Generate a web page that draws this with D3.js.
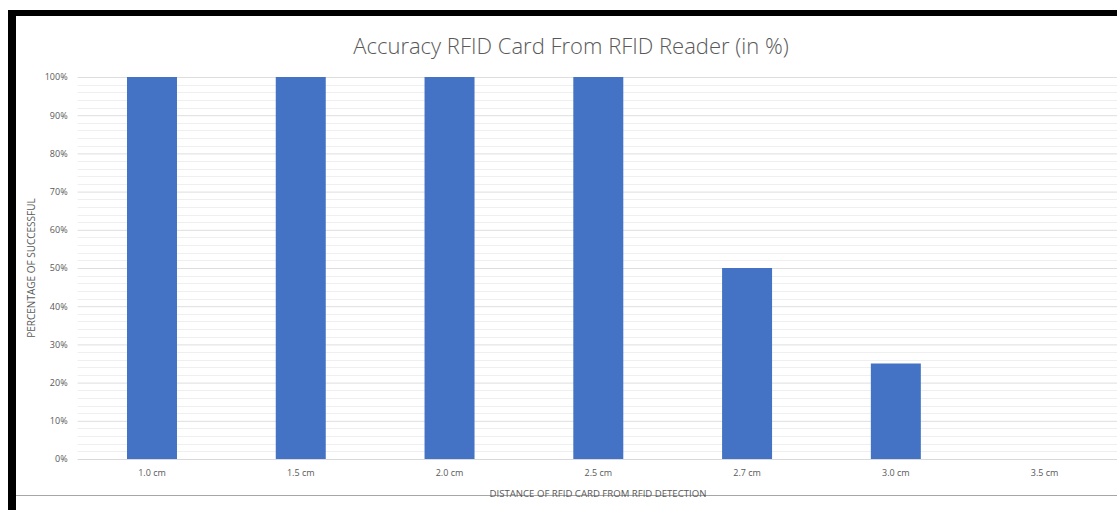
<!DOCTYPE html>
<html>
<head>
<meta charset="utf-8">
<script src="https://cdn.jsdelivr.net/npm/d3@7"></script>
<style>
  body { margin: 0; background: #fff; }
  text { font-family: "Open Sans", sans-serif; fill: #595959; }
</style>
</head>
<body>
<div id="chart-area"></div>
<script>
// chart data
const categories = ['1.0 cm', '1.5 cm', '2.0 cm', '2.5 cm', '2.7 cm', '3.0 cm', '3.5 cm']
const accuracy = [100, 100, 100, 100, 50, 25, 0]
const yTicks = [0, 10, 20, 30, 40, 50, 60, 70, 80, 90, 100]

const W = 1117, H = 510
const margin = { left: 77.6, top: 77, right: -2, bottom: 51 }
const width = W - margin.left - margin.right
const height = H - margin.top - margin.bottom

const svg = d3.select('#chart-area').append('svg')
  .attr('width', W)
  .attr('height', H)

// frame of the screenshot
svg.append('rect').attr('x', 8).attr('y', 10).attr('width', W).attr('height', 6).attr('fill', '#000')
svg.append('rect').attr('x', 8).attr('y', 10).attr('width', 8).attr('height', H).attr('fill', '#000')
svg.append('line')
  .attr('x1', 16).attr('x2', W).attr('y1', 495.5).attr('y2', 495.5)
  .attr('stroke', '#a6a6a6').attr('stroke-width', 1)

const g = svg.append('g')
  .attr('transform', `translate(${margin.left},${margin.top})`)

const x = d3.scaleBand()
  .domain(categories)
  .range([0, width])
  .paddingInner(0.664)
  .paddingOuter(0.332)

const y = d3.scaleLinear()
  .domain([0, 100])
  .range([height, 0])

// minor gridlines every 2%
g.append('g')
  .selectAll('line')
  .data(d3.range(0, 101, 2).filter(v => v % 10 !== 0))
  .enter().append('line')
  .attr('x1', 0).attr('x2', width)
  .attr('y1', d => Math.round(y(d)) + 0.5).attr('y2', d => Math.round(y(d)) + 0.5)
  .attr('stroke', '#efefef')

// major gridlines
const axisLeft = d3.axisLeft(y).tickValues(yTicks).tickSize(-width).tickFormat(d => d + '%')
g.append('g')
  .attr('class', 'y-axis')
  .call(axisLeft)
  .call(a => a.select('.domain').remove())
  .call(a => a.selectAll('line').attr('stroke', '#dedede'))
  .call(a => a.selectAll('text')
    .attr('x', -10)
    .attr('font-size', '9px')
    .style('font-family', '"Open Sans", sans-serif')
    .style('fill', '#595959'))

// bars
g.selectAll('rect.bar')
  .data(categories)
  .enter().append('rect')
  .attr('class', 'bar')
  .attr('x', d => x(d))
  .attr('y', (d, i) => y(accuracy[i]))
  .attr('width', x.bandwidth())
  .attr('height', (d, i) => height - y(accuracy[i]))
  .attr('fill', '#4472c4')

// x axis
const axisBottom = d3.axisBottom(x).tickSize(0).tickPadding(11)
g.append('g')
  .attr('class', 'x-axis')
  .attr('transform', `translate(0, ${height})`)
  .call(axisBottom)
  .call(a => a.select('.domain').attr('stroke', '#d9d9d9'))
  .call(a => a.selectAll('text')
    .attr('font-size', '9px')
    .style('font-family', '"Open Sans", sans-serif')
    .style('fill', '#595959'))

// labels
svg.append('text')
  .attr('x', 571)
  .attr('y', 54)
  .attr('text-anchor', 'middle')
  .attr('font-size', '22px')
  .attr('font-weight', 300)
  .text('Accuracy RFID Card From RFID Reader (in %)')

svg.append('text')
  .attr('x', 598)
  .attr('y', 497)
  .attr('text-anchor', 'middle')
  .attr('font-size', '9.6px')
  .text('DISTANCE OF RFID CARD FROM RFID DETECTION')

svg.append('text')
  .attr('transform', 'translate(35, 268) rotate(-90)')
  .attr('text-anchor', 'middle')
  .attr('font-size', '10px')
  .text('PERCENTAGE OF SUCCESSFUL')
</script>
</body>
</html>
